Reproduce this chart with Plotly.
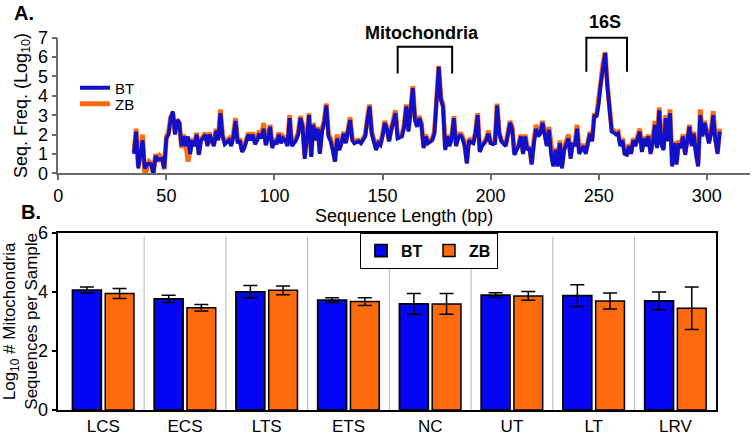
import plotly.graph_objects as go

# ---------------- Panel A data (sequence length vs log10 frequency) ----------------
seq_len = list(range(35, 307))
bt_freq = [
    1.0, 2.15, 0.25, 1.0, 1.7, 0.25, 0.45, 0.5, 0.45, 0.0,      # 35-44
    0.9, 0.7, 0.75, 0.75, 0.25, 1.8, 2.0, 2.85, 3.2, 2.0,       # 45-54
    2.75, 2.6, 1.4, 1.9, 1.4, 1.9, 1.0, 1.7, 1.4, 2.0,          # 55-64
    0.95, 1.7, 1.8, 2.0, 1.4, 2.0, 1.7, 1.4, 2.2, 1.7,          # 65-74
    3.1, 1.9, 1.5, 1.6, 1.7, 1.4, 1.9, 2.7, 1.55, 1.7,          # 75-84
    1.1, 1.3, 1.7, 2.0, 1.7, 2.0, 1.5, 1.7, 2.05, 1.8,          # 85-94
    2.3, 1.45, 1.8, 2.4, 1.3, 1.7, 1.5, 2.0, 1.55, 1.8,         # 95-104
    1.7, 1.4, 2.85, 1.4, 1.55, 1.7, 2.0, 2.85, 2.4, 0.75,       # 105-114
    1.8, 3.0, 0.85, 2.5, 1.7, 2.3, 1.0, 2.15, 2.6, 3.5,         # 115-124
    1.9, 1.65, 1.2, 0.6, 1.8, 1.2, 1.55, 2.05, 1.55, 2.1,       # 125-134
    2.75, 1.7, 1.55, 1.6, 1.65, 1.55, 1.7, 1.9, 2.75, 3.45,     # 135-144
    2.05, 1.6, 1.2, 1.55, 1.45, 1.9, 2.6, 2.3, 1.65, 2.2,       # 145-154
    2.75, 3.1, 1.8, 1.85, 1.9, 2.4, 3.45, 2.15, 3.2, 4.4,       # 155-164
    2.75, 2.4, 2.85, 2.5, 1.3, 1.9, 1.55, 1.6, 1.7, 2.05,       # 165-174
    3.6, 5.5, 3.8, 3.45, 1.2, 1.9, 1.4, 1.8, 2.85, 1.4,         # 175-184
    1.8, 2.0, 1.8, 1.4, 0.5, 1.7, 1.6, 1.55, 2.05, 3.0,         # 185-194
    1.1, 1.4, 1.55, 1.7, 2.05, 1.55, 1.5, 1.55, 3.5, 2.05,      # 195-204
    1.65, 1.55, 1.4, 2.0, 2.6, 2.25, 0.95, 1.2, 1.4, 1.9,       # 205-214
    1.0, 1.9, 1.2, 1.3, 0.45, 1.5, 2.3, 1.9, 2.05, 2.6,         # 215-224
    2.05, 1.4, 2.25, 0.95, 0.35, 1.2, 0.35, 1.55, 0.25, 1.2,    # 225-234
    1.5, 1.8, 0.75, 1.55, 1.4, 2.3, 1.0, 1.2, 1.4, 1.0,         # 235-244
    1.65, 2.05, 1.65, 3.0, 2.9, 3.6, 4.65, 5.6, 6.2, 4.5,       # 245-254
    3.25, 2.15, 2.1, 2.0, 2.05, 1.4, 1.7, 1.0, 0.95, 1.4,       # 255-264
    1.0, 1.7, 1.4, 1.8, 2.15, 1.1, 1.8, 1.4, 1.9, 1.0,          # 265-274
    1.55, 2.5, 1.3, 3.25, 1.5, 1.2, 2.85, 1.65, 3.1, 0.35,      # 275-284
    1.55, 0.45, 1.55, 1.3, 1.9, 0.95, 1.6, 2.4, 1.4, 2.05,      # 285-294
    1.0, 0.35, 3.0, 1.9, 2.6, 2.0, 1.55, 2.05, 3.0, 1.7,        # 295-304
    1.0, 2.15,                                                  # 305-306
]
zb_freq = [
    1.1, 2.3, 0.4, 1.2, 2.0, -0.1, 0.3, 0.6, 0.5, -0.05,        # 35-44
    1.0, 0.6, 0.9, 0.8, 0.2, 1.9, 2.1, 2.9, 3.1, 2.1,           # 45-54
    2.8, 2.6, 1.3, 2.0, 1.5, 0.6, 1.2, 1.8, 1.5, 2.1,           # 55-64
    1.0, 1.8, 1.9, 2.1, 1.5, 2.1, 1.6, 1.5, 2.3, 1.8,           # 65-74
    3.3, 2.0, 1.6, 1.7, 1.8, 1.5, 2.0, 2.85, 1.6, 1.8,          # 75-84
    1.2, 1.4, 1.8, 2.1, 1.8, 2.1, 1.6, 1.8, 2.2, 1.9,           # 85-94
    2.6, 1.5, 1.9, 2.5, 1.4, 1.8, 1.6, 2.1, 1.6, 1.9,           # 95-104
    1.8, 1.5, 3.0, 1.5, 1.6, 1.8, 2.1, 2.95, 2.5, 0.9,          # 105-114
    1.9, 3.1, 0.9, 2.6, 1.8, 2.4, 1.1, 2.3, 2.7, 3.6,           # 115-124
    2.0, 1.8, 1.3, 0.6, 2.0, 1.3, 1.6, 2.15, 1.6, 2.2,          # 125-134
    2.9, 1.8, 1.6, 1.7, 1.7, 1.6, 1.8, 2.0, 2.85, 3.55,         # 135-144
    2.15, 1.7, 1.3, 1.6, 1.5, 2.0, 2.7, 2.4, 1.7, 2.3,          # 145-154
    2.9, 3.25, 1.9, 1.9, 2.0, 2.5, 3.55, 2.25, 3.3, 4.5,        # 155-164
    2.85, 2.5, 2.95, 2.6, 1.4, 2.0, 1.6, 1.7, 1.8, 2.15,        # 165-174
    3.7, 5.55, 3.9, 3.5, 1.3, 2.0, 1.5, 1.9, 2.95, 1.5,         # 175-184
    1.9, 2.1, 1.9, 1.5, 0.6, 1.8, 1.7, 1.6, 2.15, 3.1,          # 185-194
    1.2, 1.5, 1.6, 1.8, 2.2, 1.6, 1.6, 1.6, 3.6, 2.1,           # 195-204
    1.7, 1.6, 1.5, 2.1, 2.7, 2.4, 1.0, 1.3, 1.5, 2.0,           # 205-214
    1.1, 2.0, 1.3, 1.4, 0.5, 1.7, 2.5, 2.0, 2.15, 2.7,          # 215-224
    2.2, 1.5, 2.4, 1.1, 0.5, 1.3, 0.5, 1.7, 0.4, 1.3,           # 225-234
    1.6, 2.0, 0.9, 1.6, 1.5, 2.5, 1.1, 1.3, 1.5, 1.1,           # 235-244
    1.8, 2.15, 1.8, 3.1, 3.0, 3.7, 4.75, 5.7, 6.25, 4.6,        # 245-254
    3.35, 2.3, 2.2, 2.1, 2.15, 1.5, 1.8, 1.1, 1.05, 1.5,        # 255-264
    1.1, 1.8, 1.5, 1.9, 2.3, 1.2, 1.9, 1.5, 2.0, 1.1,           # 265-274
    1.7, 2.7, 1.4, 3.4, 1.6, 1.3, 3.0, 1.8, 3.3, 0.45,          # 275-284
    1.65, 0.55, 1.7, 1.4, 2.0, 1.05, 1.7, 2.5, 1.5, 2.15,       # 285-294
    1.1, 0.45, 3.3, 2.0, 2.7, 2.1, 1.65, 2.15, 3.2, 1.8,        # 295-304
    1.1, 2.3,                                                   # 305-306
]
assert len(bt_freq) == len(seq_len) == len(zb_freq)

# ---------------- Panel B data (mitochondria reads per sample) ----------------
tissues = ["LCS", "ECS", "LTS", "ETS", "NC", "UT", "LT", "LRV"]
bt_mito = [4.06, 3.76, 4.00, 3.72, 3.59, 3.89, 3.87, 3.69]
bt_err = [0.10, 0.12, 0.21, 0.08, 0.35, 0.08, 0.37, 0.30]
zb_mito = [3.94, 3.46, 4.05, 3.67, 3.59, 3.86, 3.69, 3.44]
zb_err = [0.17, 0.11, 0.15, 0.13, 0.35, 0.15, 0.27, 0.72]

# ---------------- styling ----------------
W, H = 753, 435
FONT = "Arial, 'Liberation Sans', sans-serif"
BLUE_LINE = "#1010C8"
BLUE_BAR = "#0505F5"
ORANGE = "#FF6A0D"
AXIS_GREY = "#6a6a6a"

xa_dom = [58.3 / W, 750 / W]
ya_dom = [1 - 173.3 / H, 1 - 37.7 / H]
xb_dom = [58.3 / W, 716.3 / W]
yb_dom = [1 - 410 / H, 1 - 232.7 / H]
XA_RANGE = [0, 320]
YA_RANGE = [0, 7]


def px_x(bp):
    return xa_dom[0] + (bp - XA_RANGE[0]) / (XA_RANGE[1] - XA_RANGE[0]) * (xa_dom[1] - xa_dom[0])


def px_y(v):
    return ya_dom[0] + (v - YA_RANGE[0]) / (YA_RANGE[1] - YA_RANGE[0]) * (ya_dom[1] - ya_dom[0])


fig = go.Figure()

fig.add_trace(go.Scatter(x=seq_len, y=zb_freq, mode="lines", name="ZB", showlegend=True,
                         line=dict(color=ORANGE, width=4.8), legend="legend3",
                         xaxis="x", yaxis="y"))
fig.add_trace(go.Scatter(x=seq_len, y=bt_freq, mode="lines", name="BT", showlegend=True,
                         line=dict(color=BLUE_LINE, width=3.8), legend="legend",
                         xaxis="x", yaxis="y"))

fig.add_trace(go.Bar(x=tissues, y=bt_mito, name="BT", marker=dict(color=BLUE_BAR, line=dict(color="black", width=1.8)),
                     error_y=dict(type="data", array=bt_err, color="black", thickness=1.5, width=7),
                     xaxis="x2", yaxis="y2", legend="legend2", legendrank=1, showlegend=True))
fig.add_trace(go.Bar(x=tissues, y=zb_mito, name="ZB", marker=dict(color=ORANGE, line=dict(color="black", width=1.5)),
                     error_y=dict(type="data", array=zb_err, color="black", thickness=1.5, width=7),
                     xaxis="x2", yaxis="y2", legend="legend2", legendrank=2, showlegend=True))

shapes = []
# group separators in panel B
for i in range(len(tissues) - 1):
    shapes.append(dict(type="line", xref="x2", yref="y2", x0=i + 0.5, x1=i + 0.5, y0=0, y1=5.87,
                       line=dict(color="#b4b4b4", width=1), layer="below"))
# brackets in panel A
for (a, b, top, bot) in [(157, 182.2, 6.53, 5.15), (244.3, 263.1, 7.0, 5.24)]:
    path = "M {x0},{yb} L {x0},{yt} L {x1},{yt} L {x1},{yb}".format(
        x0=px_x(a), x1=px_x(b), yt=px_y(top), yb=px_y(bot))
    shapes.append(dict(type="path", xref="paper", yref="paper", path=path,
                       line=dict(color="black", width=2)))

annotations = [
    dict(text="<b>A.</b>", x=12 / W, y=1 - 13 / H, xref="paper", yref="paper", xanchor="left",
         yanchor="middle", showarrow=False, font=dict(size=20, color="black")),
    dict(text="<b>B.</b>", x=19 / W, y=1 - 212 / H, xref="paper", yref="paper", xanchor="left",
         yanchor="middle", showarrow=False, font=dict(size=20, color="black")),
    dict(text="<b>Mitochondria</b>", x=421.7 / W, y=1 - 33 / H, xref="paper", yref="paper",
         xanchor="center", yanchor="middle", showarrow=False, font=dict(size=18, color="black")),
    dict(text="<b>16S</b>", x=605 / W, y=1 - 22 / H, xref="paper", yref="paper",
         xanchor="center", yanchor="middle", showarrow=False, font=dict(size=18, color="black")),
]

line_legend = dict(xanchor="left", yanchor="middle", bgcolor="rgba(0,0,0,0)",
                   font=dict(size=15), tracegroupgap=0, itemwidth=30, visible=True)

fig.update_layout(
    width=W, height=H,
    showlegend=True,
    margin=dict(l=0, r=0, t=0, b=0, autoexpand=False),
    paper_bgcolor="white", plot_bgcolor="white",
    font=dict(family=FONT, size=17, color="black"),
    barmode="group", bargap=0.2, bargroupgap=0.12,
    shapes=shapes, annotations=annotations,
    xaxis=dict(domain=xa_dom, anchor="y", range=XA_RANGE, tickvals=[0, 50, 100, 150, 200, 250, 300],
               showline=True, linecolor=AXIS_GREY, linewidth=1.5, ticks="outside", ticklen=5,
               tickcolor=AXIS_GREY, tickwidth=1.5, showgrid=False, zeroline=False, automargin=False,
               tickfont=dict(size=18), title=dict(text="Sequence Length (bp)", font=dict(size=18), standoff=2)),
    yaxis=dict(domain=ya_dom, anchor="x", range=YA_RANGE, dtick=1, automargin=False,
               showline=True, linecolor=AXIS_GREY, linewidth=1.5, ticks="outside", ticklen=5,
               tickcolor=AXIS_GREY, tickwidth=1.5, showgrid=False, zeroline=False,
               tickfont=dict(size=18), title=dict(text="Seq. Freq. (Log<sub>10</sub>)", font=dict(size=18), standoff=6)),
    xaxis2=dict(domain=xb_dom, anchor="y2", type="category", range=[-0.55, 7.5], automargin=False,
                showline=True, mirror=True, linecolor="black", linewidth=1.5, ticks="",
                showgrid=False, zeroline=False, tickfont=dict(size=17)),
    yaxis2=dict(domain=yb_dom, anchor="x2", range=[0, 6], tickvals=[0, 2, 4, 6], automargin=False,
                showline=True, mirror=True, linecolor="black", linewidth=1.5, ticks="outside", ticklen=5,
                tickwidth=1.5, tickcolor="black", showgrid=False, zeroline=False, tickfont=dict(size=18),
                title=dict(text="Log<sub>10</sub> # Mitochondria<br>Sequences per Sample", font=dict(size=17), standoff=6)),
    legend=dict(x=75 / W, y=1 - 88 / H, **line_legend),
    legend3=dict(x=75 / W, y=1 - 104 / H, **line_legend),
    legend2=dict(x=360 / W, y=1 - 232.7 / H, xanchor="left", yanchor="top", orientation="h",
                 bgcolor="white", bordercolor="black", borderwidth=1, entrywidth=23,
                 font=dict(size=16, weight="bold")),
)

fig.write_html("out.html", config={"displayModeBar": False},
               post_script="document.body.style.margin='0';document.body.style.padding='0';")
